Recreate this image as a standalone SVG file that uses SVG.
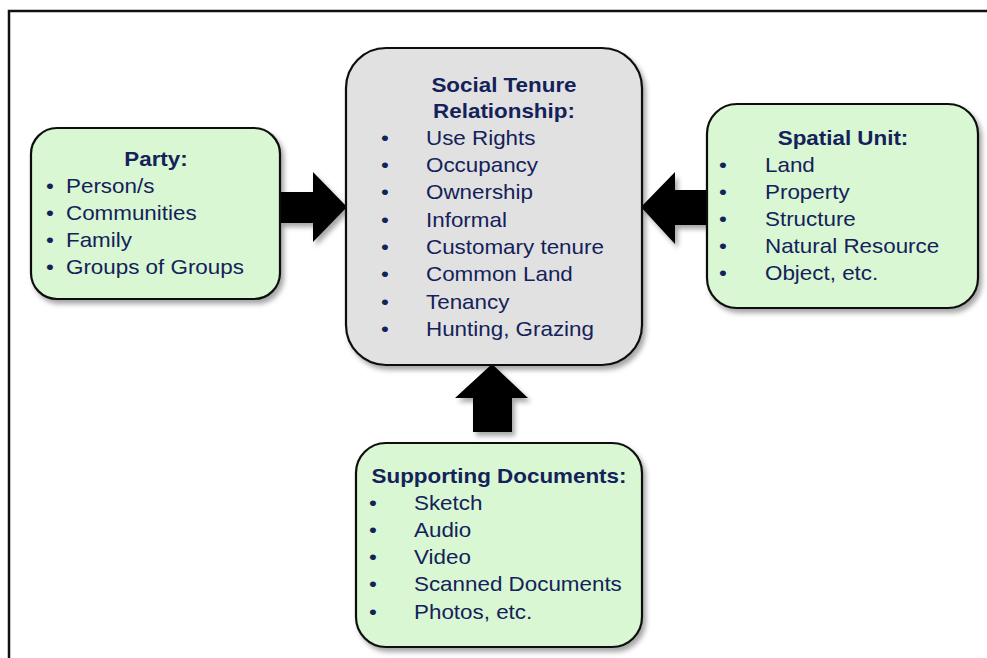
<svg xmlns="http://www.w3.org/2000/svg" width="987" height="658" viewBox="0 0 987 658">
<style>
.box{stroke:#111;stroke-width:2.2}
.green{fill:#d8f7d2}
.gray{fill:#e1e1e1}
.t{font-family:"Liberation Sans",Arial,sans-serif;font-size:20px;fill:#14215a}
.b{font-weight:bold}
.m{text-anchor:middle}
.arrow{fill:#000}
</style>
<defs>
<filter id="sh" x="-10%" y="-10%" width="130%" height="130%">
<feDropShadow dx="3" dy="4" stdDeviation="2.5" flood-color="#000" flood-opacity="0.35"/>
</filter>
</defs>
<rect width="987" height="658" fill="#fff"/>
<rect x="9" y="11" width="1000" height="700" fill="none" stroke="#111" stroke-width="2.5"/>
<g id="connectors" filter="url(#sh)">
<polygon class="arrow" points="280,192 313,192 313,172 347,207 313,242 313,223 280,223"/>
<polygon class="arrow" points="707,190 675,190 675,172 641,207 675,244 675,225 707,225"/>
<polygon class="arrow" points="473,432 473,398 455,398 492,364 528,398 512,398 512,432"/>
</g>
<g id="party">
<rect class="box green" x="31" y="128" width="249" height="171" rx="26" filter="url(#sh)"/>
<text class="t b m" transform="translate(156 166) scale(1.12 1)">Party:</text>
<text class="t m" transform="translate(50 193) scale(1.12 1)">•</text>
<text class="t" transform="translate(66 193) scale(1.12 1)">Person/s</text>
<text class="t m" transform="translate(50 220) scale(1.12 1)">•</text>
<text class="t" transform="translate(66 220) scale(1.12 1)">Communities</text>
<text class="t m" transform="translate(50 247) scale(1.12 1)">•</text>
<text class="t" transform="translate(66 247) scale(1.12 1)">Family</text>
<text class="t m" transform="translate(50 274) scale(1.12 1)">•</text>
<text class="t" transform="translate(66 274) scale(1.12 1)">Groups of Groups</text>
</g>
<g id="str">
<rect class="box gray" x="346" y="48" width="296" height="317" rx="40" filter="url(#sh)"/>
<text class="t b m" transform="translate(504 92) scale(1.12 1)">Social Tenure</text>
<text class="t b m" transform="translate(504 118) scale(1.12 1)">Relationship:</text>
<text class="t m" transform="translate(385 145) scale(1.12 1)">•</text>
<text class="t" transform="translate(426 145) scale(1.12 1)">Use Rights</text>
<text class="t m" transform="translate(385 172) scale(1.12 1)">•</text>
<text class="t" transform="translate(426 172) scale(1.12 1)">Occupancy</text>
<text class="t m" transform="translate(385 199) scale(1.12 1)">•</text>
<text class="t" transform="translate(426 199) scale(1.12 1)">Ownership</text>
<text class="t m" transform="translate(385 227) scale(1.12 1)">•</text>
<text class="t" transform="translate(426 227) scale(1.12 1)">Informal</text>
<text class="t m" transform="translate(385 254) scale(1.12 1)">•</text>
<text class="t" transform="translate(426 254) scale(1.12 1)">Customary tenure</text>
<text class="t m" transform="translate(385 281) scale(1.12 1)">•</text>
<text class="t" transform="translate(426 281) scale(1.12 1)">Common Land</text>
<text class="t m" transform="translate(385 309) scale(1.12 1)">•</text>
<text class="t" transform="translate(426 309) scale(1.12 1)">Tenancy</text>
<text class="t m" transform="translate(385 336) scale(1.12 1)">•</text>
<text class="t" transform="translate(426 336) scale(1.12 1)">Hunting, Grazing</text>
</g>
<g id="spatial">
<rect class="box green" x="707" y="104" width="271" height="204" rx="30" filter="url(#sh)"/>
<text class="t b m" transform="translate(843 145) scale(1.12 1)">Spatial Unit:</text>
<text class="t m" transform="translate(723 172) scale(1.12 1)">•</text>
<text class="t" transform="translate(765 172) scale(1.12 1)">Land</text>
<text class="t m" transform="translate(723 199) scale(1.12 1)">•</text>
<text class="t" transform="translate(765 199) scale(1.12 1)">Property</text>
<text class="t m" transform="translate(723 226) scale(1.12 1)">•</text>
<text class="t" transform="translate(765 226) scale(1.12 1)">Structure</text>
<text class="t m" transform="translate(723 253) scale(1.12 1)">•</text>
<text class="t" transform="translate(765 253) scale(1.12 1)">Natural Resource</text>
<text class="t m" transform="translate(723 280) scale(1.12 1)">•</text>
<text class="t" transform="translate(765 280) scale(1.12 1)">Object, etc.</text>
</g>
<g id="docs">
<rect class="box green" x="356" y="443" width="286" height="204" rx="30" filter="url(#sh)"/>
<text class="t b m" transform="translate(499 483) scale(1.12 1)">Supporting Documents:</text>
<text class="t m" transform="translate(373 510) scale(1.12 1)">•</text>
<text class="t" transform="translate(414 510) scale(1.12 1)">Sketch</text>
<text class="t m" transform="translate(373 537) scale(1.12 1)">•</text>
<text class="t" transform="translate(414 537) scale(1.12 1)">Audio</text>
<text class="t m" transform="translate(373 564) scale(1.12 1)">•</text>
<text class="t" transform="translate(414 564) scale(1.12 1)">Video</text>
<text class="t m" transform="translate(373 591) scale(1.12 1)">•</text>
<text class="t" transform="translate(414 591) scale(1.12 1)">Scanned Documents</text>
<text class="t m" transform="translate(373 619) scale(1.12 1)">•</text>
<text class="t" transform="translate(414 619) scale(1.12 1)">Photos, etc.</text>
</g>
</svg>
